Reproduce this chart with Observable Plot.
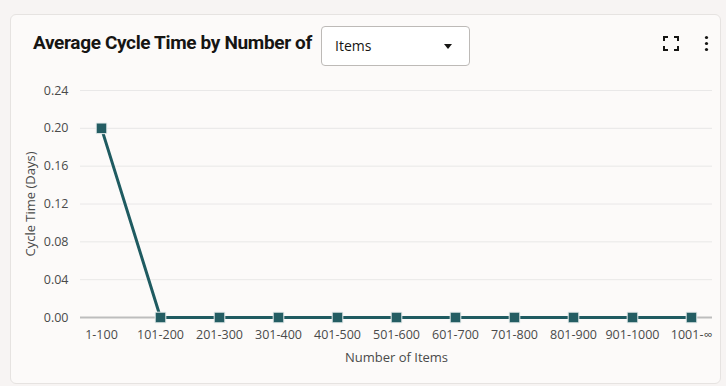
<!DOCTYPE html>
<html>
<head>
<meta charset="utf-8">
<script src="https://cdn.jsdelivr.net/npm/d3@7"></script>
<script src="https://cdn.jsdelivr.net/npm/@observablehq/plot@0.6"></script>
<style>
  html, body { margin: 0; padding: 0; background: #f7f4f3; width: 726px; height: 386px; overflow: hidden; font-family: "Open Sans", sans-serif; }
  #card { position: absolute; left: 10px; top: 14px; width: 709px; height: 368px; background: #fcfaf9; border: 1px solid #e6e3e1; border-radius: 6px; }
  #title { position: absolute; left: 33px; top: 31px; font-family: Roboto, sans-serif; font-weight: 700; font-size: 19px; color: #161513; letter-spacing: -0.35px; }
  #dd { position: absolute; left: 321px; top: 26px; width: 149px; height: 40px; background: #fff; border: 1px solid #bdbab7; border-radius: 4px; box-sizing: border-box; }
  #dd span { position: absolute; left: 13px; top: 9px; font-size: 14px; color: #161513; font-family: "Open Sans", sans-serif; }
  #caret { position: absolute; left: 122px; top: 17px; width: 0; height: 0; border-left: 4px solid transparent; border-right: 4px solid transparent; border-top: 5px solid #161513; }
  #icons { position: absolute; left: 660px; top: 34px; }
  #chart { position: absolute; left: 0; top: 75px; }
  #chart svg g[aria-label="x-axis label"] text, #chart svg g[aria-label="y-axis label"] text { font-size: 13px; }
</style>
</head>
<body>
<div id="card"></div>
<div id="title">Average Cycle Time by Number of</div>
<div id="dd"><span>Items</span><div id="caret"></div></div>
<svg id="icons" width="60" height="20" viewBox="0 0 60 20">
  <g fill="none" stroke="#161513" stroke-width="2">
    <path d="M4 7 V3 H8"/><path d="M14 3 H18 V7"/><path d="M4 12 V16 H8"/><path d="M14 16 H18 V12"/>
  </g>
  <g fill="#161513">
    <circle cx="46.5" cy="3.5" r="1.6"/><circle cx="46.5" cy="9.5" r="1.6"/><circle cx="46.5" cy="15.5" r="1.6"/>
  </g>
</svg>
<div id="chart"></div>
<script>
const categories = ["1-100","101-200","201-300","301-400","401-500","501-600","601-700","701-800","801-900","901-1000","1001-∞"];
const cycleTime = [0.20, 0, 0, 0, 0, 0, 0, 0, 0, 0, 0];
const yTicks = [0, 0.04, 0.08, 0.12, 0.16, 0.20, 0.24];

const data = categories.map((c, i) => ({cat: c, v: cycleTime[i]}));

const plot = Plot.plot({
  width: 726,
  height: 300,
  marginLeft: 80,
  marginRight: 14,
  marginTop: 15,
  marginBottom: 58,
  style: {background: "transparent", fontFamily: "Open Sans, sans-serif", fontSize: "12.5px", color: "#4a4a4a"},
  x: {type: "point", domain: categories, range: [101, 691], padding: 0},
  y: {domain: [0, 0.24]},
  marks: [
    Plot.gridY(yTicks, {stroke: "#dcdcdc", strokeOpacity: 0.6}),
    Plot.ruleY([0], {stroke: "#bdbdbd", strokeWidth: 2}),
    Plot.axisX({tickSize: 0, tickPadding: 13, label: "Number of Items", labelAnchor: "center", labelArrow: "none", labelOffset: 44}),
    Plot.axisY(yTicks, {tickSize: 0, tickPadding: 12, tickFormat: d3.format(".2f"), label: "Cycle Time (Days)", labelAnchor: "center", labelArrow: "none", labelOffset: 55}),
    Plot.line(data, {x: "cat", y: "v", stroke: "#1f5b61", strokeWidth: 3}),
    Plot.dot(data, {x: "cat", y: "v", symbol: "square", r: 6, fill: "#245d63", stroke: "#e8eeee", strokeWidth: 1})
  ]
});
document.getElementById("chart").appendChild(plot);
</script>
</body>
</html>
